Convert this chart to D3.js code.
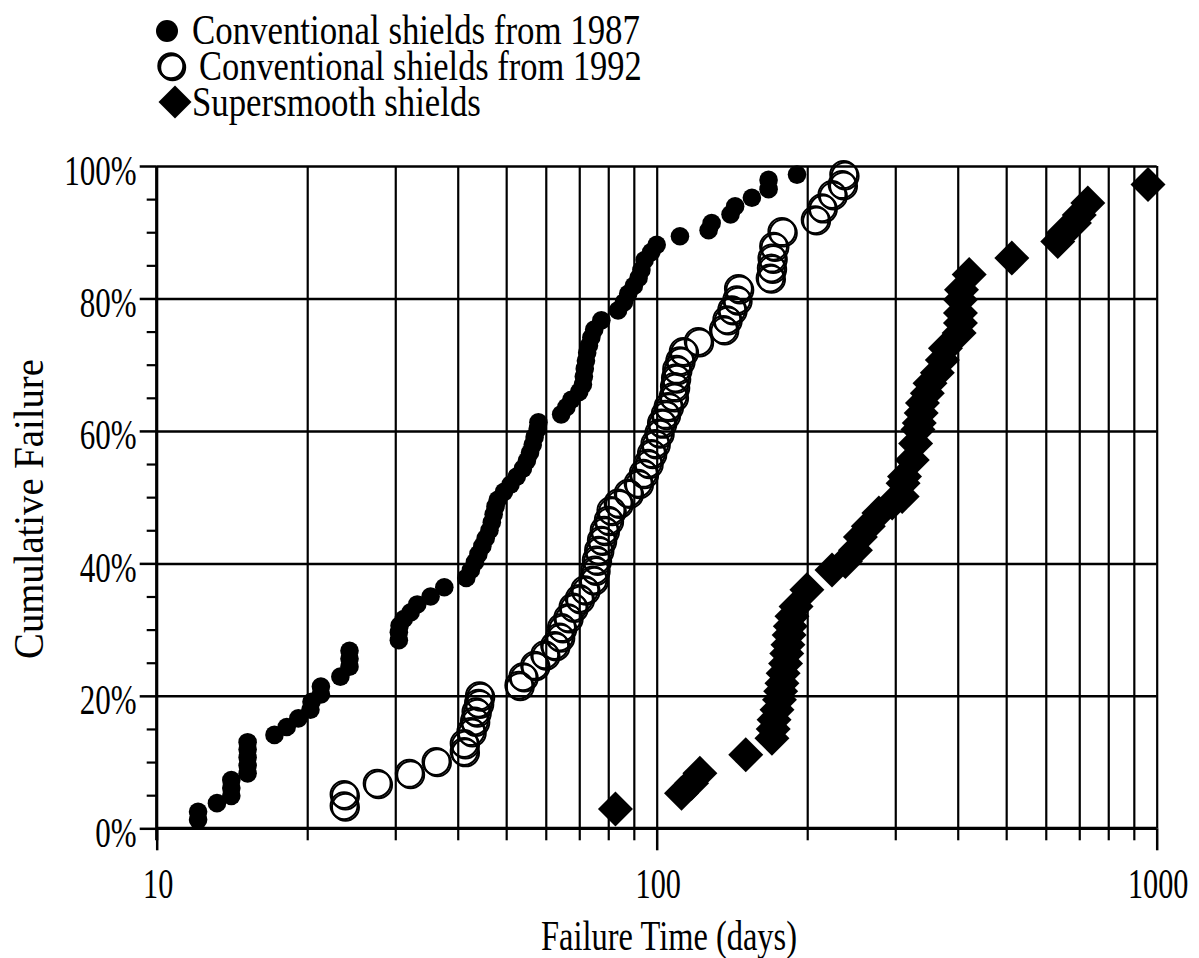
<!DOCTYPE html>
<html><head><meta charset="utf-8">
<script src="https://cdn.jsdelivr.net/npm/d3@7"></script>
<style>
html,body{margin:0;padding:0;background:#fff;}
svg{display:block;}
text{font-family:"Liberation Serif","Times New Roman",serif;fill:#000;}
</style></head>
<body>
<svg id="chart" width="1199" height="958"></svg>
<script>
// ---- data ----
const seriesNames = ["Conventional shields from 1987", "Conventional shields from 1992", "Supersmooth shields"];

const conv1987Days = [12.1,12.1,13.2,14.1,14.1,14.1,15.2,15.2,15.2,15.2,15.2,17.2,18.2,19.2,20.3,20.4,21.3,21.3,23.3,24.3,24.3,24.3,30.5,30.5,30.6,31.2,32.2,33.2,35.3,37.6,41.6,42.5,43.3,44.0,44.8,45.5,46.3,46.8,47.2,47.6,48.1,49.5,51.0,52.5,54.0,55.0,55.8,56.5,57.0,57.8,58.0,64.4,66.0,67.5,70.0,71.2,71.5,71.8,72.2,72.6,73.2,74.0,75.0,77.5,83.7,86.0,87.7,90.0,92.0,93.2,94.6,97.5,100.0,111.3,127.0,128.8,140.5,143.5,155.0,167.4,167.4,190.8];
const conv1987Pct = [1.3,2.5,3.8,4.9,6.1,7.3,8.3,9.5,10.7,11.9,13.0,14.1,15.3,16.6,17.9,19.1,20.2,21.4,22.9,24.4,25.6,26.8,28.4,29.6,30.6,31.6,32.6,33.8,35.0,36.4,37.8,39.0,40.2,41.4,42.6,43.8,45.0,46.2,47.4,48.6,49.6,50.8,51.9,53.1,54.3,55.5,56.7,57.9,59.1,60.3,61.3,62.5,63.6,64.7,65.9,67.0,68.2,69.4,70.6,71.8,72.9,74.1,75.3,76.7,78.2,79.4,80.7,81.9,83.1,84.3,85.8,87.0,88.1,89.4,90.3,91.4,92.7,93.9,95.2,96.5,97.9,98.7];

const conv1992Days = [23.7,23.7,27.6,32.0,36.2,41.2,41.2,42.5,43.2,43.5,44.0,44.2,53.0,54.0,57.0,59.7,62.5,63.9,64.5,66.4,68.0,70.0,71.8,74.6,75.2,75.7,76.5,77.5,78.5,80.0,81.0,83.7,87.7,91.8,94.0,96.0,97.6,99.2,101.0,102.2,104.0,105.4,107.9,108.5,109.0,109.6,111.2,113.0,121.1,136.0,138.1,141.3,144.6,145.7,168.6,169.5,170.0,171.3,178.0,207.5,214.1,224.2,234.9,236.6];
const conv1992Pct = [3.4,5.1,6.8,8.3,10.1,11.6,12.8,14.6,16.2,17.6,18.9,20.0,21.6,22.9,24.6,26.2,27.6,28.9,30.3,31.8,33.4,34.7,36.0,37.5,39.0,40.5,42.0,43.5,45.0,46.5,48.0,49.1,50.6,52.1,53.6,55.1,56.6,58.1,59.7,61.2,62.5,63.7,65.2,66.7,68.0,69.3,70.6,72.0,73.5,75.3,76.8,78.3,79.8,81.5,83.1,84.6,86.1,87.9,90.1,91.9,93.7,95.7,97.2,98.7];

const smoothDays = [82.7,112.1,117.4,122.0,150.7,170.0,171.0,171.7,174.0,176.0,177.0,178.0,179.0,181.0,182.0,183.0,184.0,185.0,186.4,190.0,199.7,224.2,238.4,249.7,255.5,265.0,278.2,295.8,309.7,311.0,313.0,324.4,329.5,333.0,335.0,338.0,340.0,347.7,352.0,364.1,372.6,378.0,402.6,405.0,405.0,405.0,407.0,421.7,513.2,634.0,650.0,684.7,700.0,728.1,960.7];
const smoothPct = [2.9,5.3,6.8,8.3,11.1,13.6,15.0,16.4,17.9,19.4,20.7,21.9,23.4,24.9,26.4,27.7,29.2,30.5,32.0,33.5,36.0,39.0,40.3,42.0,44.0,45.6,47.6,49.1,50.1,52.1,53.1,55.6,58.1,60.2,61.2,62.7,64.2,65.7,67.2,68.8,70.7,72.5,74.8,76.3,77.8,79.8,81.3,83.6,86.1,88.6,89.9,91.4,92.6,94.4,97.2];

const xMajorTicks = [10, 100, 1000];
const xMinorTicks = [20,30,40,50,60,70,80,90,200,300,400,500,600,700,800,900];
const yMajorTicks = [0, 20, 40, 60, 80, 100];
const yMinorTicks = [5,10,15,25,30,35,45,50,55,65,70,75,85,90,95];
const xTitle = "Failure Time (days)";
const yTitle = "Cumulative Failure";

// ---- layout ----
const svg = d3.select("#chart");
const L = 156.7, R = 1156.7, T = 166, B = 828.3;
const x = d3.scaleLog().domain([10, 1000]).range([L, R]);
const y = d3.scaleLinear().domain([0, 100]).range([B, T]);
const FS = 42;

// place a text horizontally condensed by factor k, anchored at (ax, ay)
function squeeze(textNode, ax, ay, k, extra) {
  textNode.setAttribute("x", 0);
  textNode.setAttribute("y", 0);
  textNode.setAttribute("transform", `translate(${ax},${ay})${extra || ""} scale(${k},1)`);
}
function fitWidth(sel, ax, ay, width, extra) {
  const node = sel.node();
  const w = node.getComputedTextLength();
  squeeze(node, ax, ay, width / w, extra);
}

// vertical gridlines
const gx = svg.append("g").attr("transform", `translate(0,${B})`)
  .call(d3.axisBottom(x).tickValues(xMinorTicks.concat([100, 1000])).tickSize(-(B - T)).tickFormat(""));
gx.select(".domain").remove();
gx.selectAll("line").attr("stroke", "#000").attr("stroke-width", 2.2);

// horizontal gridlines
const gy = svg.append("g").attr("transform", `translate(${L},0)`)
  .call(d3.axisLeft(y).tickValues(yMajorTicks.slice(1)).tickSize(-(R - L)).tickFormat(""));
gy.select(".domain").remove();
gy.selectAll("line").attr("stroke", "#000").attr("stroke-width", 2.5);

// x minor ticks below axis
const xm = svg.append("g").attr("transform", `translate(0,${B})`)
  .call(d3.axisBottom(x).tickValues(xMinorTicks).tickSize(12).tickFormat(""));
xm.select(".domain").remove();
xm.selectAll("line").attr("stroke", "#000").attr("stroke-width", 2.2);

// x major ticks with labels
const xa = svg.append("g").attr("transform", `translate(0,${B})`)
  .call(d3.axisBottom(x).tickValues(xMajorTicks).tickSize(22).tickFormat(d3.format("d")));
xa.attr("font-family", null).attr("font-size", null);
xa.select(".domain").attr("stroke", "#000").attr("stroke-width", 3.2).attr("d", `M${L},0H${R}`);
xa.selectAll("line").attr("stroke", "#000").attr("stroke-width", 2.5);
xa.selectAll("text").attr("font-size", FS).attr("dy", null).attr("fill", "#000")
  .each(function () { squeeze(this, 1, 70, 0.72); });

// y minor ticks
const ym = svg.append("g").attr("transform", `translate(${L},0)`)
  .call(d3.axisLeft(y).tickValues(yMinorTicks).tickSize(10).tickFormat(""));
ym.select(".domain").remove();
ym.selectAll("line").attr("stroke", "#000").attr("stroke-width", 2.2);

// y major ticks with labels
const ya = svg.append("g").attr("transform", `translate(${L},0)`)
  .call(d3.axisLeft(y).tickValues(yMajorTicks).tickSize(17).tickFormat(d => d + "%"));
ya.attr("font-family", null).attr("font-size", null);
ya.select(".domain").attr("stroke", "#000").attr("stroke-width", 3.2).attr("d", `M0,${B + 12}V${T}`);
ya.selectAll("line").attr("stroke", "#000").attr("stroke-width", 2.5);
ya.selectAll("text").attr("font-size", FS).attr("dy", null).attr("fill", "#000")
  .each(function () { squeeze(this, -20, 18, 0.74); });

// axis titles
const xt = svg.append("text").attr("text-anchor", "middle").attr("font-size", FS).text(xTitle);
fitWidth(xt, 669, 950, 256);
const yt = svg.append("text").attr("text-anchor", "middle").attr("font-size", FS).text(yTitle);
fitWidth(yt, 43, 509, 300, " rotate(-90)");

// ---- marks ----
const diamond = h => `M0,${-h}L${h},0L0,${h}L${-h},0Z`;

const d1987 = conv1987Days.map((d, i) => ({ x: d, y: conv1987Pct[i] }));
const d1992 = conv1992Days.map((d, i) => ({ x: d, y: conv1992Pct[i] }));
const dSmooth = smoothDays.map((d, i) => ({ x: d, y: smoothPct[i] }));

svg.append("g").selectAll("circle").data(d1987).join("circle")
  .attr("cx", d => x(d.x)).attr("cy", d => y(d.y)).attr("r", 9.3).attr("fill", "#000");

const g92 = svg.append("g");
g92.selectAll("circle.sh").data(d1992).join("circle").attr("class", "sh")
  .attr("cx", d => x(d.x) + 1.4).attr("cy", d => y(d.y) + 1.4).attr("r", 13.5)
  .attr("fill", "none").attr("stroke", "#000").attr("stroke-width", 2);
g92.selectAll("circle.mn").data(d1992).join("circle").attr("class", "mn")
  .attr("cx", d => x(d.x)).attr("cy", d => y(d.y)).attr("r", 13.5)
  .attr("fill", "none").attr("stroke", "#000").attr("stroke-width", 2);

svg.append("g").selectAll("path").data(dSmooth).join("path")
  .attr("transform", d => `translate(${x(d.x)},${y(d.y)})`)
  .attr("d", diamond(17.5)).attr("fill", "#000");

// ---- legend ----
const legendRows = [
  { name: seriesNames[0], base: 44, mx: 167, my: 31, w: 448, tx: 192, kind: "filled" },
  { name: seriesNames[1], base: 80, mx: 171, my: 66, w: 443, tx: 199, kind: "open" },
  { name: seriesNames[2], base: 116, mx: 175, my: 102, w: 289, tx: 192, kind: "diamond" }
];
const lg = svg.append("g");
legendRows.forEach(r => {
  if (r.kind === "filled") {
    lg.append("circle").attr("cx", r.mx).attr("cy", r.my).attr("r", 11).attr("fill", "#000");
  } else if (r.kind === "open") {
    lg.append("circle").attr("cx", r.mx + 1.5).attr("cy", r.my + 1.5).attr("r", 12.5)
      .attr("fill", "none").attr("stroke", "#000").attr("stroke-width", 2.4);
    lg.append("circle").attr("cx", r.mx).attr("cy", r.my).attr("r", 12.5)
      .attr("fill", "none").attr("stroke", "#000").attr("stroke-width", 2.4);
  } else {
    lg.append("path").attr("transform", `translate(${r.mx},${r.my})`).attr("d", diamond(16.5)).attr("fill", "#000");
  }
  const t = lg.append("text").attr("font-size", FS).text(r.name);
  fitWidth(t, r.tx, r.base, r.w);
});
</script>
</body></html>
